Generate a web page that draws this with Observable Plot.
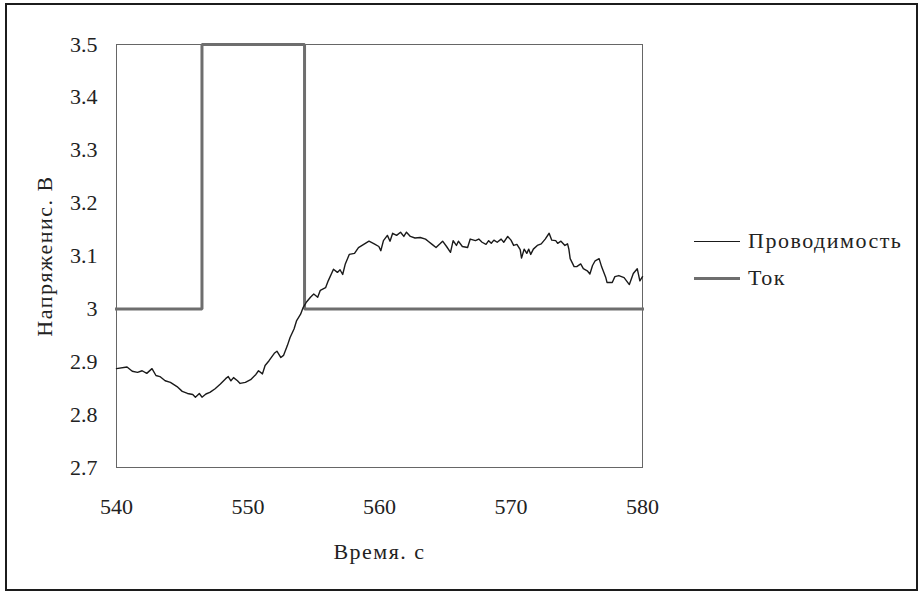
<!DOCTYPE html>
<html>
<head>
<meta charset="utf-8">
<script src="https://cdn.jsdelivr.net/npm/d3@7"></script>
<script src="https://cdn.jsdelivr.net/npm/@observablehq/plot@0.6"></script>
<style>
  html, body { margin: 0; padding: 0; background: #fff; }
  #wrap { position: relative; width: 923px; height: 593px; overflow: hidden; font-family: "Liberation Serif", "Times New Roman", Times, "DejaVu Serif", "Noto Serif", serif; color: #222; }
  #border { position: absolute; left: 5px; top: 3px; width: 913px; height: 588px; box-sizing: border-box; border: 2px solid #1c1c1c; pointer-events: none; }
  #chart { position: absolute; left: 0; top: 0; }
  #chart svg text { font-family: "Liberation Serif", "Times New Roman", Times, "DejaVu Serif", "Noto Serif", serif; }
  g[aria-label="x-axis label"] text, g[aria-label="y-axis label"] text { letter-spacing: 1.5px; }
  .leg { position: absolute; left: 694px; width: 240px; height: 26px; display: flex; align-items: center; font-size: 22px; letter-spacing: 1.5px; }
  .sw { width: 46px; margin-right: 8px; }
</style>
</head>
<body>
<div id="wrap">
  <div id="chart"></div>
  <div id="legend"></div>
  <div id="border"></div>
</div>
<script>
// Series: "Проводимость" (conductivity signal)
const condTime = [540.0,540.8,541.2,541.6,541.95,542.3,542.7,543.0,543.3,543.7,544.1,544.6,545.0,545.4,545.8,546.0,546.3,546.5,546.8,547.1,547.5,547.9,548.3,548.5,548.7,548.9,549.2,549.4,549.8,550.2,550.6,550.8,551.1,551.3,551.6,552.0,552.2,552.5,552.7,553.0,553.2,553.5,553.7,554.0,554.2,554.45,554.75,555.0,555.3,555.5,555.9,556.1,556.5,556.8,557.0,557.2,557.4,557.7,558.1,558.4,558.8,559.2,559.6,559.95,560.1,560.3,560.6,560.8,561.0,561.3,561.6,561.85,562.05,562.35,562.7,563.1,563.5,563.7,564.0,564.3,564.6,564.8,565.1,565.4,565.6,565.85,566.0,566.3,566.7,566.9,567.3,567.55,567.8,568.1,568.3,568.5,568.7,568.95,569.25,569.45,569.75,570.0,570.2,570.45,570.7,570.8,571.0,571.2,571.35,571.5,571.7,572.0,572.3,572.6,572.9,573.1,573.4,573.55,573.8,574.1,574.3,574.4,574.5,574.8,575.0,575.3,575.5,575.8,576.0,576.2,576.4,576.7,576.9,577.2,577.3,577.7,577.9,578.2,578.6,579.0,579.3,579.6,579.8,580.0];
const condValue = [2.887,2.890,2.882,2.880,2.883,2.878,2.887,2.874,2.872,2.864,2.861,2.853,2.844,2.840,2.838,2.833,2.840,2.833,2.839,2.842,2.849,2.858,2.868,2.872,2.864,2.870,2.864,2.859,2.861,2.866,2.876,2.883,2.877,2.893,2.902,2.916,2.920,2.908,2.912,2.931,2.946,2.962,2.978,2.990,3.003,3.013,3.022,3.028,3.022,3.035,3.040,3.053,3.075,3.069,3.074,3.065,3.085,3.103,3.105,3.116,3.122,3.128,3.123,3.118,3.110,3.129,3.139,3.128,3.143,3.139,3.145,3.137,3.145,3.137,3.134,3.135,3.132,3.128,3.122,3.116,3.123,3.128,3.118,3.107,3.129,3.120,3.128,3.118,3.116,3.132,3.129,3.132,3.126,3.122,3.129,3.124,3.130,3.126,3.132,3.126,3.137,3.130,3.120,3.122,3.112,3.096,3.113,3.105,3.113,3.103,3.113,3.120,3.123,3.132,3.143,3.130,3.129,3.124,3.128,3.120,3.123,3.113,3.095,3.080,3.080,3.085,3.076,3.072,3.066,3.082,3.091,3.095,3.079,3.060,3.050,3.050,3.061,3.063,3.059,3.046,3.067,3.076,3.053,3.061];

// Series: "Ток" (current, step signal)
const tokTime  = [540, 546.5, 546.5, 554.3, 554.3, 580];
const tokValue = [3.0, 3.0,   3.5,   3.5,   3.0,   3.0];

// Axes
const xTicks = [540, 550, 560, 570, 580];
const yTicks = [2.7, 2.8, 2.9, 3.0, 3.1, 3.2, 3.3, 3.4, 3.5];
const yTickLabels = ["2.7", "2.8", "2.9", "3", "3.1", "3.2", "3.3", "3.4", "3.5"];
const xLabel = "Время. с";
const yLabel = "Напряженис. В";
const seriesNames = ["Проводимость", "Ток"];
const seriesColors = ["#1a1a1a", "#6e6e6e"];
const seriesWidths = [1.4, 3];

const cond = condTime.map((t, i) => ({t, v: condValue[i]}));
const tok = tokTime.map((t, i) => ({t, v: tokValue[i]}));

const chart = Plot.plot({
  width: 923,
  height: 593,
  marginLeft: 116,
  marginRight: 281,
  marginTop: 44,
  marginBottom: 126,
  style: { fontFamily: "'Liberation Serif', 'Times New Roman', Times, 'DejaVu Serif', serif", fontSize: "22px", color: "#222", background: "transparent" },
  x: { domain: [540, 580], ticks: xTicks, tickSize: 0, tickPadding: 31, label: xLabel, labelAnchor: "center", labelOffset: 91, labelArrow: "none" },
  y: { domain: [2.7, 3.5], ticks: yTicks, tickSize: 0, tickPadding: 19, tickFormat: (d) => yTickLabels[yTicks.findIndex(v => Math.abs(v - d) < 1e-9)], label: yLabel, labelAnchor: "center", labelOffset: 80, labelArrow: "none" },
  marks: [
    Plot.frame({ stroke: "#666", strokeWidth: 1 }),
    Plot.line(tok, { x: "t", y: "v", stroke: seriesColors[1], strokeWidth: seriesWidths[1], strokeLinejoin: "miter", strokeLinecap: "square" }),
    Plot.line(cond, { x: "t", y: "v", stroke: seriesColors[0], strokeWidth: seriesWidths[0], strokeLinejoin: "round" })
  ]
});
document.getElementById("chart").appendChild(chart);

// Legend (HTML, to the right of the plot)
const legend = document.getElementById("legend");
const legTops = [228, 265];
seriesNames.forEach((name, i) => {
  const row = document.createElement("div");
  row.className = "leg";
  row.style.top = legTops[i] + "px";
  const sw = document.createElement("div");
  sw.className = "sw";
  sw.style.borderTop = seriesWidths[i] + "px solid " + seriesColors[i];
  const tx = document.createElement("span");
  tx.textContent = name;
  row.appendChild(sw);
  row.appendChild(tx);
  legend.appendChild(row);
});
</script>
</body>
</html>
